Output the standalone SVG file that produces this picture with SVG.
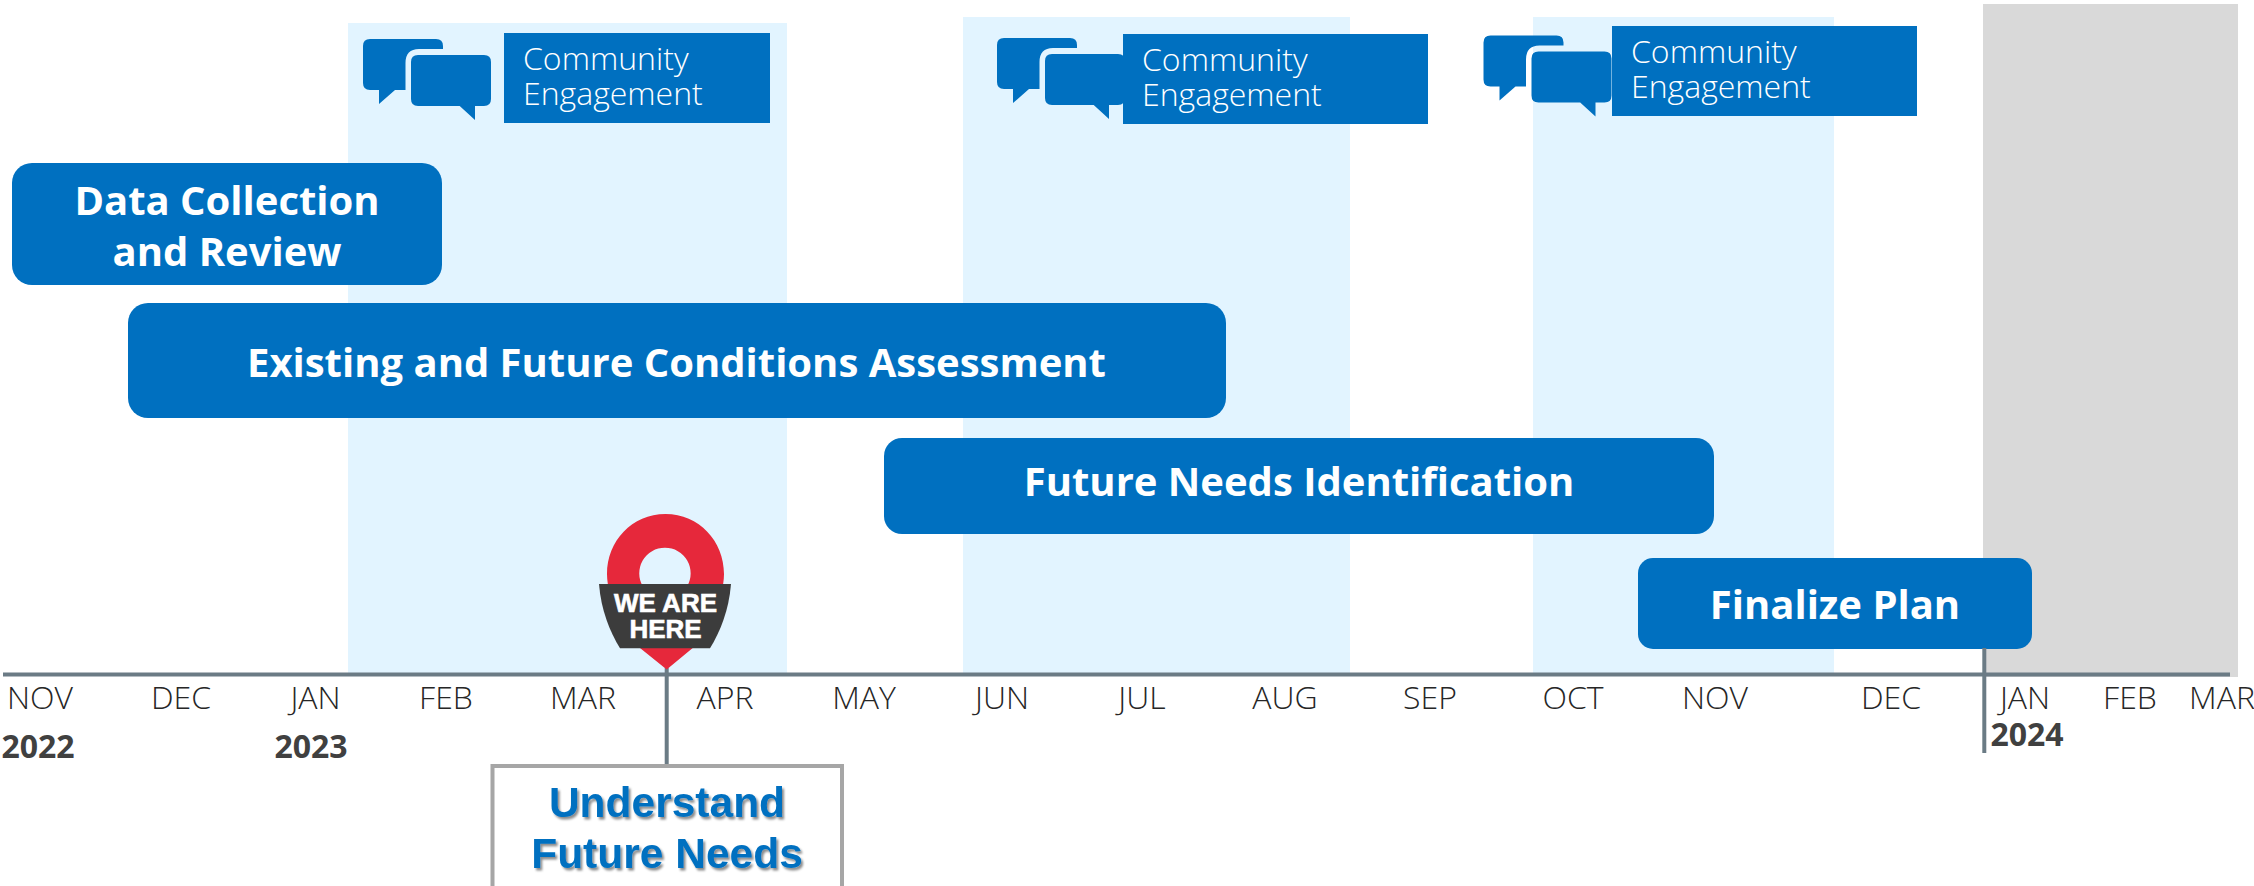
<svg xmlns="http://www.w3.org/2000/svg" width="2254" height="886" viewBox="0 0 2254 886">
<style>
.panel{fill:#e2f4ff}
.bar{fill:#0070c0}
.bt{font-family:"Open Sans","Noto Sans",sans-serif;font-weight:700;fill:#fff;font-size:40px;text-anchor:middle}
.ce{font-family:"Open Sans","Noto Sans",sans-serif;font-weight:300;fill:#fff;font-size:32px}
.m{font-family:"Open Sans","Noto Sans",sans-serif;font-weight:300;fill:#262626;font-size:32px;text-anchor:middle}
.y{font-family:"Open Sans","Noto Sans",sans-serif;fill:#404040;font-size:32px;font-weight:700;text-anchor:middle}
.ax{stroke:#6b7b85;stroke-width:4;fill:none}
.u{font-family:"Liberation Sans",Arial,sans-serif;font-weight:700;font-size:42.500px;fill:#0070c0;text-anchor:middle;filter:url(#sh)}
.w{font-family:"Liberation Sans",Arial,sans-serif;font-weight:700;font-size:26px;fill:#fff;stroke:#fff;stroke-width:.6;text-anchor:middle}
</style>
<defs>
<filter id="sh" x="-5%" y="-10%" width="110%" height="130%"><feDropShadow dx="2" dy="2.500" stdDeviation="1.200" flood-color="#000" flood-opacity="0.45"/></filter>
<g id="ic">
<path class="bar" d="M7 0H73Q80 0 80 7V10H56Q42.500 10 42.500 24V51H32L16 65V51H7Q0 51 0 44V7Q0 0 7 0Z"/>
<path class="bar" d="M55 16H121Q128 16 128 23V60Q128 67 121 67H112V81L96.700 67H55Q48 67 48 60V23Q48 16 55 16Z"/>
</g>
</defs>
<rect width="2254" height="886" fill="#fff"/>
<g id="panels">
<rect class="panel" x="348" y="23" width="439" height="651"/>
<rect class="panel" x="963" y="17" width="387" height="657"/>
<rect class="panel" x="1533" y="17" width="301" height="657"/>
<rect x="1983" y="4" width="255" height="673" fill="#d9d9d9"/>
</g>
<g id="community-1">
<use href="#ic" x="363" y="39"/>
<rect class="bar" x="504" y="33" width="266" height="90"/>
<text class="ce"><tspan x="523" y="70">Community</tspan><tspan x="523" y="105">Engagement</tspan></text>
</g>
<g id="community-2">
<use href="#ic" x="997" y="38"/>
<rect class="bar" x="1123" y="34" width="305" height="90"/>
<text class="ce"><tspan x="1142" y="71">Community</tspan><tspan x="1142" y="106">Engagement</tspan></text>
</g>
<g id="community-3">
<use href="#ic" x="1483.500" y="35.500"/>
<rect class="bar" x="1612" y="26" width="305" height="90"/>
<text class="ce"><tspan x="1631" y="63">Community</tspan><tspan x="1631" y="98">Engagement</tspan></text>
</g>
<g id="bar-data">
<rect class="bar" x="12" y="163" width="430" height="122" rx="20"/>
<text class="bt"><tspan x="227" y="215">Data Collection</tspan><tspan x="227" y="266">and Review</tspan></text>
</g>
<g id="bar-existing">
<rect class="bar" x="128" y="303" width="1098" height="115" rx="20"/>
<text class="bt" x="676.500" y="377">Existing and Future Conditions Assessment</text>
</g>
<g id="bar-needs">
<rect class="bar" x="884" y="438" width="830" height="96" rx="18"/>
<text class="bt" x="1299" y="496">Future Needs Identification</text>
</g>
<g id="bar-final">
<rect class="bar" x="1638" y="558" width="394" height="91" rx="15"/>
<text class="bt" x="1835" y="619">Finalize Plan</text>
</g>
<g id="connectors">
<path class="ax" d="M3 674.500H2230"/>
<path class="ax" d="M666.700 668V765"/>
<path class="ax" d="M1984.300 648V753"/>
</g>
<g id="pin">
<path fill="#e6283b" fill-rule="evenodd" d="M665.500 514C632 514 607 541 607 574C607 600 625 625 640 648L666.700 669.500L692.700 648C706 625 724 600 724 574C724 541 699 514 665.500 514ZM665 547.700A25.700 25.700 0 1 1 664.900 547.700Z"/>
<path fill="#3c3c3c" d="M599 584H731C729 610 720 632 710 648.300H620C610 632 601 610 599 584Z"/>
<text class="w"><tspan x="665.500" y="612">WE ARE</tspan><tspan x="665.500" y="638">HERE</tspan></text>
</g>
<g id="months">
<text class="m" x="40" y="709">NOV</text><text class="m" x="181" y="709">DEC</text><text class="m" x="315.500" y="709">JAN</text><text class="m" x="446" y="709">FEB</text><text class="m" x="583" y="709">MAR</text><text class="m" x="725" y="709">APR</text><text class="m" x="864" y="709">MAY</text><text class="m" x="1002" y="709">JUN</text><text class="m" x="1142" y="709">JUL</text><text class="m" x="1285" y="709">AUG</text><text class="m" x="1430" y="709">SEP</text><text class="m" x="1573" y="709">OCT</text><text class="m" x="1715" y="709">NOV</text><text class="m" x="1891" y="709">DEC</text><text class="m" x="2025" y="709">JAN</text><text class="m" x="2130" y="709">FEB</text><text class="m" x="2222" y="709">MAR</text>
<text class="y" x="38" y="758">2022</text><text class="y" x="311" y="758">2023</text><text class="y" x="2027" y="746">2024</text>
</g>
<g id="goal">
<rect x="492.500" y="766" width="349.500" height="130" fill="#fff" stroke="#a6a6a6" stroke-width="4"/>
<text class="u"><tspan x="667" y="817">Understand</tspan><tspan x="667" y="868">Future Needs</tspan></text>
</g>
</svg>
